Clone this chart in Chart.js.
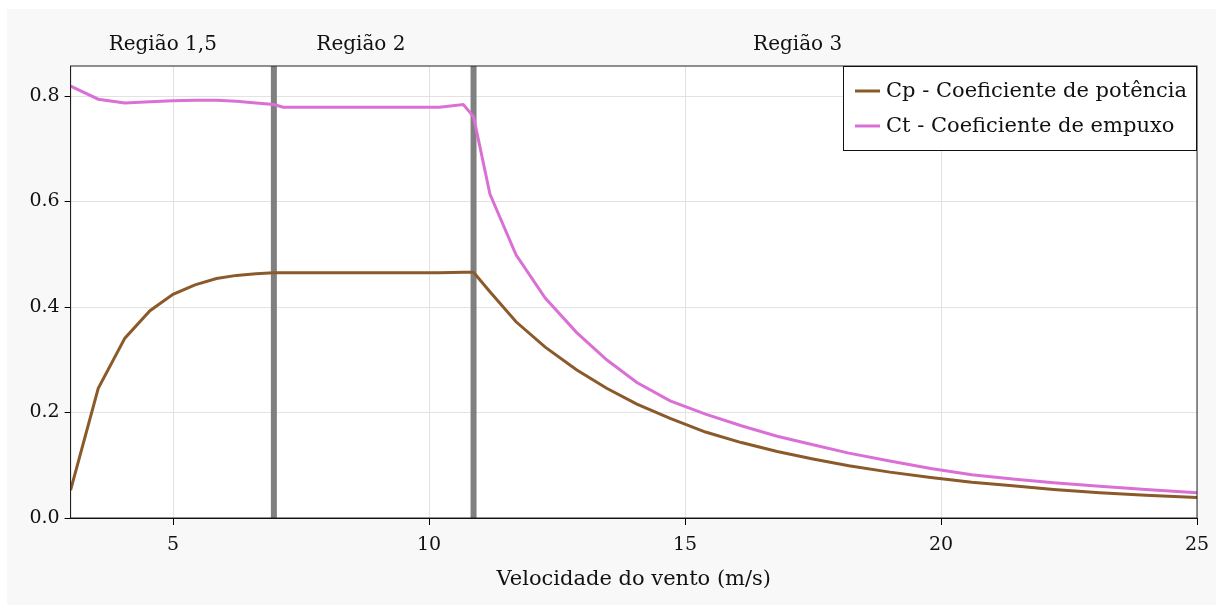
<!DOCTYPE html>
<html>
<head>
<meta charset="utf-8">
<script src="https://cdn.jsdelivr.net/npm/chart.js@4"></script>
<style>
  body { margin: 0; background: #ffffff; }
  #wrap { position: absolute; left: 7px; top: 9px; width: 1209px; height: 596px; background: #f8f8f8; }
</style>
</head>
<body>
<div id="wrap"><canvas id="myChart"></canvas></div>
<script>
// wind speed (m/s)
const windSpeed = [3.0, 3.54, 4.06, 4.55, 5.0, 5.43, 5.85, 6.24, 6.62, 6.97, 7.15, 10.2, 10.67, 10.87,
  11.19, 11.7, 12.27, 12.88, 13.47, 14.06, 14.71, 15.4, 16.1, 16.8, 17.5, 18.2, 19.0, 19.8,
  20.6, 21.4, 22.2, 23.1, 24.0, 25.0];
const cpValues = [0.053, 0.246, 0.341, 0.393, 0.424, 0.442, 0.454, 0.460, 0.463, 0.465, 0.465, 0.465, 0.466, 0.466,
  0.429, 0.372, 0.324, 0.281, 0.246, 0.216, 0.189, 0.163, 0.143, 0.126, 0.112, 0.099, 0.087, 0.077,
  0.068, 0.061, 0.054, 0.048, 0.043, 0.039];
const ctValues = [0.819, 0.794, 0.787, 0.789, 0.791, 0.792, 0.792, 0.790, 0.787, 0.784, 0.779, 0.779, 0.784, 0.761,
  0.614, 0.499, 0.417, 0.352, 0.300, 0.257, 0.222, 0.197, 0.175, 0.155, 0.139, 0.123, 0.108, 0.094,
  0.082, 0.074, 0.067, 0.060, 0.054, 0.048];

const regionBounds = [6.97, 10.87];
const regionLabels = ["Região 1,5", "Região 2", "Região 3"];
const regionLabelX = [4.8, 8.67, 17.2];
const xTicks = [5, 10, 15, 20, 25];
const yTicks = [0.0, 0.2, 0.4, 0.6, 0.8];
const seriesNames = ["Cp - Coeficiente de potência", "Ct - Coeficiente de empuxo"];

const fontFam = "'DejaVu Serif', 'Liberation Serif', serif";
const cpColor = "#8b5a2b";
const ctColor = "#da70d6";

function pts(ys) {
  return windSpeed.map((x, i) => ({ x: x, y: ys[i] }));
}

const datasets = [
  { label: seriesNames[0], data: pts(cpValues), borderColor: cpColor, borderWidth: 3, order: 1 },
  { label: seriesNames[1], data: pts(ctValues), borderColor: ctColor, borderWidth: 3, order: 1 },
];
regionBounds.forEach(b => {
  datasets.push({
    label: "",
    data: [{ x: b, y: 0 }, { x: b, y: 0.857 }],
    borderColor: "#808080",
    borderWidth: 6,
    order: 5,
  });
});

const extras = {
  id: "extras",
  beforeDraw(chart) {
    const a = chart.chartArea;
    chart.ctx.save();
    chart.ctx.fillStyle = "#fff";
    chart.ctx.fillRect(a.left, a.top, a.right - a.left, a.bottom - a.top);
    chart.ctx.restore();
  },
  afterDraw(chart) {
    const ctx = chart.ctx;
    const a = chart.chartArea;
    const xs = chart.scales.x;
    ctx.save();
    // frame
    ctx.strokeStyle = "#222";
    ctx.lineWidth = 1;
    ctx.strokeRect(a.left, a.top, a.right - a.left, a.bottom - a.top);
    // region labels
    ctx.fillStyle = "#111";
    ctx.font = "20px " + fontFam;
    ctx.textAlign = "center";
    ctx.textBaseline = "middle";
    regionLabels.forEach((t, i) => {
      ctx.fillText(t, xs.getPixelForValue(regionLabelX[i]), a.top - 21);
    });
    // legend
    const lw = 354, lh = 85;
    const lx = a.right - lw, ly = a.top;
    ctx.fillStyle = "#fff";
    ctx.fillRect(lx, ly, lw, lh);
    ctx.strokeStyle = "#111";
    ctx.strokeRect(lx + 0.5, ly + 0.5, lw - 1, lh - 1);
    ctx.textAlign = "left";
    ctx.font = "21px " + fontFam;
    [cpColor, ctColor].forEach((c, i) => {
      const y = ly + 25 + i * 35;
      ctx.strokeStyle = c;
      ctx.lineWidth = 3;
      ctx.beginPath();
      ctx.moveTo(lx + 12, y);
      ctx.lineTo(lx + 37, y);
      ctx.stroke();
      ctx.fillStyle = "#111";
      ctx.fillText(seriesNames[i], lx + 43, y + 1);
    });
    ctx.restore();
  },
};

const config = {
  type: "line",
  data: { datasets: datasets },
  options: {
    responsive: true,
    maintainAspectRatio: false,
    animation: false,
    layout: { padding: { left: 0, top: 57, right: 19, bottom: 0 } },
    elements: { point: { radius: 0 }, line: { tension: 0 } },
    scales: {
      x: {
        type: "linear",
        min: 3,
        max: 25,
        afterFit: s => { s.height = 87; s.paddingLeft = 0; s.paddingRight = 0; },
        afterBuildTicks: s => { s.ticks = xTicks.map(v => ({ value: v })); },
        grid: { color: "#e2e2e2", tickColor: "#000", tickLength: 7 },
        border: { color: "#000", width: 1 },
        ticks: { color: "#111", font: { family: fontFam, size: 19 }, padding: 9 },
        title: {
          display: true,
          text: "Velocidade do vento (m/s)",
          color: "#111",
          font: { family: fontFam, size: 21 },
          padding: { top: 0, bottom: 13 },
        },
      },
      y: {
        min: 0,
        max: 0.857,
        afterFit: s => { s.width = 63.6; s.paddingTop = 0; s.paddingBottom = 0; },
        afterBuildTicks: s => { s.ticks = yTicks.map(v => ({ value: v })); },
        grid: { color: "#e2e2e2", tickColor: "#000", tickLength: 6 },
        border: { color: "#000", width: 1 },
        ticks: {
          color: "#111",
          font: { family: fontFam, size: 19 },
          padding: 5,
          callback: v => v.toFixed(1),
        },
      },
    },
    plugins: {
      legend: { display: false },
      tooltip: { enabled: false },
    },
  },
  plugins: [extras],
};

const myChart = new Chart(document.getElementById("myChart"), config);
</script>
</body>
</html>
